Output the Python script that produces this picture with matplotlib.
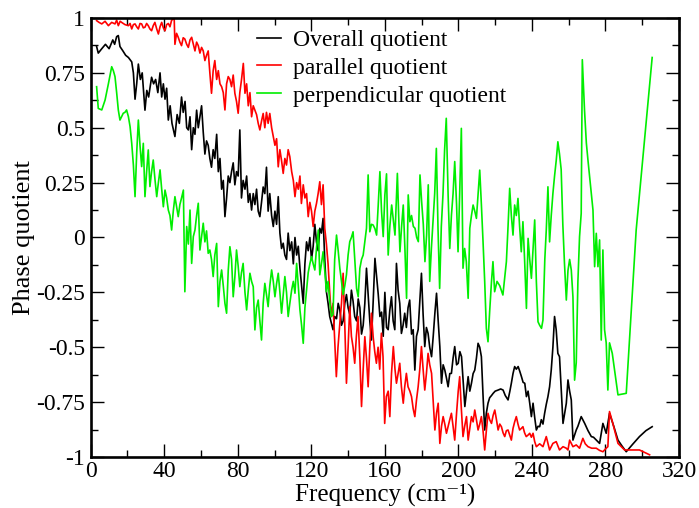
import matplotlib
matplotlib.use("Agg")
import matplotlib.pyplot as plt
from matplotlib.ticker import MultipleLocator, FixedLocator

plt.rcParams['font.family'] = ['Liberation Serif', 'DejaVu Serif']
plt.rcParams['axes.unicode_minus'] = False

# ---------------- data ----------------
overall_x = [3.2, 4.1, 6, 8, 10, 12, 13, 14.1, 15, 15.9, 17.5, 19, 20.5, 22.3, 23.2, 24.1, 25, 25.9, 27, 28,
             29.5, 30.5, 31.5, 33.1, 34.2, 35.3, 36.5, 37.7, 38.6, 39.5, 40.4, 41.3, 42.2, 43.2, 44.2, 45.8, 47, 48.2, 49.4, 50.3,
             51.3, 52.2, 53.1, 54, 54.9, 55.8, 56.7, 57.6, 58.5, 59.4, 60.3, 61.2, 62.1, 63, 63.9, 64.8, 65.7, 66.6, 67.5, 68.5,
             69.4, 70.3, 71.2, 72.1, 73, 73.9, 74.8, 75.7, 76.6, 77.5, 78.4, 79.3, 80.2, 81.1, 82, 82.9, 83.9, 84.8, 85.7, 86.6,
             87.5, 88.4, 89.3, 90.2, 91.1, 92, 92.9, 93.8, 94.7, 95.6, 96.5, 97.4, 98.4, 99.3, 100.2, 101.1, 102, 102.9, 103.8, 104.7,
             105.6, 106.5, 107.4, 108.3, 109.3, 110.2, 111.1, 112, 112.9, 113.8, 114.7, 115.6, 116.5, 117.4, 118.3, 119.2, 120.1, 121, 121.9, 122.8,
             123.7, 124.6, 125.5, 126.4, 127.3, 128.2, 129.1, 130, 130.9, 131.8, 132.7, 133.7, 134.6, 135.5, 136.4, 137.3, 138.2, 139.1, 140, 140.9,
             141.8, 142.7, 143.6, 144.6, 145.5, 146.4, 147.3, 148.2, 149.1, 150, 150.9, 151.8, 152.7, 153.6, 154.6, 155.5, 156.4, 157.3, 158.2, 159.1,
             160, 160.9, 161.8, 162.7, 163.6, 164.5, 165.4, 166.3, 167.2, 168.1, 169, 169.9, 170.8, 171.7, 172.6, 173.5, 174.5, 175.4, 176.3, 177.2,
             178.1, 179.1, 179.9, 180.8, 181.7, 182.6, 183.5, 184.4, 185.4, 186.3, 187.2, 188.1, 189, 189.9, 190.8, 191.7, 192.6, 193.5, 194.4, 195.3,
             196.2, 197.1, 198, 199, 199.9, 200.8, 201.7, 202.6, 203.5, 204.4, 205.3, 206.2, 207.1, 208, 208.9, 209.8, 210.7, 211.6, 212.5, 213.4,
             214.3, 215.2, 216.1, 217, 218, 218.9, 220, 221.6, 223, 224.3, 225.5, 227, 228, 228.8, 229.7, 230.6, 231.5, 232.5, 233.4, 234.3,
             235.2, 236.1, 237, 237.9, 238.8, 239.7, 240.6, 241.5, 242.4, 243.3, 244.2, 245.1, 246, 246.9, 247.8, 248.7, 249.6, 250.5, 251.4, 252.3,
             253.2, 254.1, 255, 256, 256.9, 257.8, 258.7, 259.6, 260.5, 261.4, 262.3, 263.2, 264.1, 265, 266.8, 268.7, 270.5, 272.3, 273.5, 275,
             276.8, 278.6, 280.4, 282.2, 284.5, 286.8, 289, 291.3, 295, 298.5, 302, 305.4]
overall_y = [0.87, 0.84, 0.86, 0.88, 0.86, 0.9, 0.88, 0.915, 0.92, 0.87, 0.85, 0.83, 0.82, 0.8, 0.75, 0.63, 0.7, 0.79, 0.72, 0.75,
             0.58, 0.67, 0.64, 0.73, 0.7, 0.72, 0.66, 0.75, 0.64, 0.7, 0.63, 0.68, 0.535, 0.6, 0.52, 0.46, 0.56, 0.52, 0.64, 0.57,
             0.62, 0.5, 0.49, 0.55, 0.4, 0.5, 0.47, 0.58, 0.5, 0.55, 0.6, 0.48, 0.38, 0.44, 0.42, 0.36, 0.32, 0.4, 0.36, 0.47,
             0.3, 0.36, 0.22, 0.26, 0.095, 0.18, 0.28, 0.25, 0.3, 0.34, 0.24, 0.3, 0.28, 0.49, 0.18, 0.26, 0.22, 0.28, 0.16, 0.2,
             0.125, 0.2, 0.15, 0.22, 0.12, 0.095, 0.16, 0.23, 0.2, 0.32, 0.12, 0.2, 0.1, 0.05, 0.12, 0.06, 0.186, 0.02, -0.05, -0.026,
             -0.08, -0.1, 0.02, -0.06, -0.02, -0.12, 0.0, -0.08, -0.04, -0.14, -0.22, -0.3, -0.12, -0.02, -0.06, 0.0, -0.1, -0.04, 0.06, -0.02,
             -0.06, 0.042, 0.02, 0.087, -0.1, -0.247, -0.3, -0.36, -0.39, -0.42, -0.36, -0.37, -0.3, -0.33, -0.4, -0.38, -0.3, -0.26, -0.32, -0.35,
             -0.24, -0.29, -0.36, -0.38, -0.28, -0.32, -0.44, -0.4, -0.3, -0.14, -0.26, -0.38, -0.467, -0.3, -0.095, -0.18, -0.26, -0.36, -0.34, -0.45,
             -0.25, -0.41, -0.42, -0.33, -0.27, -0.38, -0.42, -0.118, -0.24, -0.3, -0.437, -0.4, -0.345, -0.41, -0.32, -0.285, -0.44, -0.42, -0.604, -0.45,
             -0.42, -0.28, -0.163, -0.35, -0.497, -0.41, -0.437, -0.5, -0.543, -0.45, -0.345, -0.254, -0.38, -0.497, -0.664, -0.58, -0.604, -0.64, -0.68, -0.62,
             -0.619, -0.55, -0.497, -0.58, -0.573, -0.52, -0.543, -0.66, -0.77, -0.7, -0.634, -0.7, -0.664, -0.62, -0.604, -0.55, -0.482, -0.5, -0.543, -0.72,
             -0.877, -0.8, -0.755, -0.73, -0.72, -0.71, -0.7, -0.695, -0.69, -0.695, -0.72, -0.74, -0.7, -0.664, -0.62, -0.588, -0.6, -0.588, -0.61, -0.634,
             -0.66, -0.664, -0.725, -0.7, -0.755, -0.816, -0.755, -0.82, -0.877, -0.86, -0.862, -0.83, -0.85, -0.801, -0.76, -0.725, -0.68, -0.604, -0.5, -0.36,
             -0.421, -0.528, -0.543, -0.7, -0.847, -0.8, -0.755, -0.649, -0.7, -0.74, -0.923, -0.9, -0.877, -0.86, -0.816, -0.847, -0.88, -0.907, -0.91, -0.923,
             -0.938, -0.847, -0.892, -0.801, -0.86, -0.923, -0.95, -0.976, -0.94, -0.907, -0.88, -0.862]

parallel_x = [3.2, 4.5, 6, 7.8, 9.6, 11.4, 13.2, 14.1, 15, 16, 16.8, 18.6, 20.5, 21.4, 22.3, 23.2, 24.1, 25, 25.9, 26.8,
              27.7, 28.6, 29.5, 30.4, 31.3, 32.2, 33.1, 34, 34.9, 35.9, 36.8, 37.7, 38.6, 39.5, 40.4, 41.3, 42.2, 43.1, 44, 45.4,
              45.8, 46.7, 47.6, 48.5, 49.4, 50.3, 51.2, 52.2, 53.1, 54, 54.9, 55.8, 56.7, 57.6, 58.5, 59.4, 60.3, 61.2, 62.1, 63,
              63.9, 64.8, 65.7, 66.6, 67.5, 68.5, 69.4, 70.3, 71.2, 72.1, 73, 73.9, 74.8, 75.7, 76.6, 77.5, 78.4, 79.3, 80.2, 81.1,
              82, 83, 83.9, 84.8, 85.7, 86.6, 87.5, 88.4, 89.3, 90.2, 91.1, 92, 92.9, 93.8, 94.7, 95.6, 96.5, 97.4, 98.4, 99.3,
              100.2, 101.1, 102, 102.9, 103.8, 104.7, 105.6, 106.5, 107.4, 108.3, 109.3, 110.2, 111.1, 112, 112.9, 113.8, 114.6, 115.6, 116.5, 117.4,
              118.3, 119.2, 120.1, 121, 121.9, 122.8, 123.7, 124.6, 125.5, 126.4, 127.3, 128.2, 129.1, 130, 130.9, 131.8, 132.7, 133.6, 134.5, 135.5,
              136.4, 137.3, 138.2, 139.1, 140, 140.9, 141.8, 142.7, 143.6, 144.5, 145.4, 146.4, 147.3, 148.2, 149.1, 150, 150.9, 151.8, 152.7, 153.6,
              154.5, 155.4, 156.3, 157.2, 158.1, 159, 159.9, 160.8, 161.8, 162.7, 163.6, 164.6, 165.5, 166.3, 167.2, 168.1, 169, 170, 170.8, 171.7,
              172.6, 173.6, 174.5, 175.4, 176.3, 177.2, 178.1, 179, 179.9, 180.8, 181.7, 182.6, 183.5, 184.4, 185.4, 186.3, 187.2, 188.1, 189, 189.9,
              190.8, 191.7, 192.6, 193.5, 194.4, 195.3, 196.2, 197.1, 198, 199, 199.9, 200.7, 201.6, 202.5, 203.4, 204.4, 205.3, 206.2, 207.1, 208,
              208.9, 209.8, 210.7, 211.6, 212.5, 213.4, 214.3, 215.2, 216.1, 217, 218, 218.9, 219.8, 220.7, 221.6, 222.5, 223.4, 224.3, 225.2, 226.1,
              227, 227.9, 228.8, 229.7, 230.6, 231.5, 232.4, 233.3, 234.2, 235.1, 236, 236.9, 237.9, 238.8, 239.7, 240.6, 241.5, 242.4, 244.2, 246,
              247.8, 249.6, 251.4, 253.2, 255, 256.9, 258.7, 259.6, 260.5, 262.3, 264.1, 265.9, 267.7, 269, 270.5, 272.5, 275, 276.8, 278.6, 280.4,
              281.3, 282.2, 284, 286.8, 290.4, 293.1, 298.5, 304]
parallel_y = [0.988, 0.98, 0.973, 0.985, 0.965, 0.98, 0.973, 0.99, 0.965, 0.985, 0.98, 0.97, 0.965, 0.975, 0.95, 0.97, 0.973, 0.96, 0.95, 0.975,
              0.973, 0.955, 0.958, 0.975, 0.965, 0.95, 0.942, 0.965, 0.98, 0.95, 0.927, 0.96, 0.98, 0.955, 0.942, 0.97, 0.975, 0.96, 0.99, 0.998,
              0.88, 0.93, 0.912, 0.89, 0.874, 0.91, 0.904, 0.88, 0.866, 0.9, 0.912, 0.88, 0.85, 0.89, 0.874, 0.84, 0.866, 0.85, 0.806, 0.83,
              0.85, 0.75, 0.657, 0.76, 0.806, 0.72, 0.76, 0.7, 0.687, 0.66, 0.581, 0.7, 0.733, 0.72, 0.687, 0.74, 0.657, 0.62, 0.566, 0.66,
              0.718, 0.793, 0.657, 0.7, 0.6, 0.66, 0.55, 0.6, 0.58, 0.56, 0.52, 0.49, 0.53, 0.565, 0.5, 0.57, 0.52, 0.565, 0.5, 0.459,
              0.42, 0.45, 0.322, 0.4, 0.35, 0.292, 0.36, 0.33, 0.4, 0.368, 0.3, 0.26, 0.186, 0.25, 0.22, 0.28, 0.155, 0.24, 0.18, 0.2,
              0.095, 0.16, 0.12, 0.05, 0.12, 0.155, 0.2, 0.254, 0.15, 0.24, 0.042, -0.03, -0.12, -0.25, -0.36, -0.3, -0.467, -0.634, -0.5, -0.391,
              -0.3, -0.163, -0.4, -0.664, -0.5, -0.315, -0.45, -0.5, -0.573, -0.45, -0.36, -0.55, -0.77, -0.6, -0.452, -0.55, -0.68, -0.5, -0.345, -0.45,
              -0.52, -0.573, -0.5, -0.6, -0.436, -0.543, -0.847, -0.725, -0.7, -0.816, -0.62, -0.497, -0.6, -0.664, -0.62, -0.573, -0.68, -0.755, -0.68, -0.619,
              -0.68, -0.7, -0.725, -0.78, -0.816, -0.74, -0.68, -0.6, -0.497, -0.6, -0.695, -0.62, -0.528, -0.58, -0.619, -0.75, -0.877, -0.8, -0.755, -0.938,
              -0.86, -0.816, -0.85, -0.892, -0.86, -0.83, -0.801, -0.86, -0.923, -0.8, -0.7, -0.634, -0.78, -0.907, -0.86, -0.816, -0.923, -0.87, -0.816, -0.84,
              -0.786, -0.83, -0.877, -0.85, -0.816, -0.88, -0.968, -0.88, -0.801, -0.83, -0.847, -0.81, -0.786, -0.83, -0.877, -0.85, -0.862, -0.89, -0.907, -0.88,
              -0.877, -0.9, -0.923, -0.87, -0.84, -0.816, -0.85, -0.877, -0.87, -0.862, -0.89, -0.907, -0.9, -0.892, -0.91, -0.892, -0.93, -0.953, -0.94, -0.953,
              -0.907, -0.968, -0.938, -0.93, -0.968, -0.953, -0.96, -0.968, -0.923, -0.953, -0.945, -0.96, -0.915, -0.94, -0.953, -0.96, -0.96, -0.97, -0.976, -0.96,
              -0.953, -0.793, -0.847, -0.938, -0.968, -0.968, -0.968, -0.99]

perp_x = [3.2, 4.1, 6, 7.8, 9.6, 11.4, 12.3, 13.2, 14.1, 15, 15.9, 16.8, 17.7, 18.6, 19.5, 20.5, 21.4, 22.3, 23.2, 24.1,
          25, 25.9, 26.8, 27.7, 28.6, 29.5, 30.4, 31.3, 32.2, 33.1, 34, 35, 35.9, 36.8, 37.7, 38.6, 39.5, 40.4, 41.3, 42.2,
          43.1, 44, 44.9, 45.8, 46.7, 47.6, 48.5, 49.4, 50.4, 51.2, 52.2, 53.1, 54, 54.9, 55.8, 56.7, 57.6, 58.5, 59.4, 60.3,
          61.2, 62.1, 63, 63.9, 64.8, 65.7, 66.6, 67.5, 68.5, 69.4, 70.3, 71.2, 72.1, 73, 73.9, 74.8, 75.7, 76.6, 77.5, 78.4,
          79.3, 80.2, 81.1, 82, 82.9, 83.9, 84.8, 85.7, 86.6, 87.5, 88.4, 89.3, 90.2, 91.1, 92, 92.9, 93.8, 94.7, 95.6, 96.5,
          97.4, 98.4, 99.3, 100.2, 101.1, 102, 102.9, 103.8, 104.7, 105.6, 106.5, 107.4, 108.3, 109.3, 110.2, 111.1, 112, 112.9, 113.8, 114.7,
          115.6, 116.5, 117.4, 118.3, 119.2, 120.1, 121, 121.9, 122.8, 123.8, 124.6, 125.5, 126.4, 127.3, 128.2, 129.1, 130, 130.9, 131.8, 132.7,
          133.7, 134.6, 135.5, 136.4, 137.3, 138.2, 139.1, 140, 140.9, 141.8, 142.7, 143.6, 144.6, 145.5, 146.4, 147.3, 148.2, 149.1, 150, 150.9,
          151.8, 152.7, 153.6, 154.6, 155.5, 156.4, 157.3, 158.2, 159.1, 160, 160.9, 161.8, 162.7, 163.7, 164.6, 165.5, 166.8, 167.5, 168.2, 169.1,
          170, 170.9, 171.8, 172.7, 173.6, 174.5, 175.5, 176.4, 177.3, 178.2, 179.1, 180, 180.9, 181.8, 182.7, 183.6, 184.4, 185.3, 186.2, 187.1,
          188, 188.9, 189.8, 190.7, 191.6, 192.5, 193.4, 194.4, 195.3, 196.2, 197.1, 198, 199, 199.8, 200.7, 201.6, 202.5, 203.4, 204.3, 205.3,
          206.2, 207.1, 208, 208.9, 209.8, 210.7, 211.6, 212.5, 213.4, 214.3, 215.2, 216.1, 217, 218, 218.8, 219.7, 221, 222.5, 224.2, 225.2,
          226.1, 227, 227.9, 228.8, 229.7, 230.6, 231.5, 232.4, 233.3, 234.2, 235.1, 236, 237, 237.9, 238.8, 239.7, 240.6, 241.5, 242.4, 243.3,
          244.2, 245.2, 246, 247, 247.8, 248.7, 249.6, 250.5, 251.4, 252.3, 253.2, 254.1, 255, 255.9, 256.8, 257.7, 258.7, 259.6, 260.5, 261.4,
          262.3, 263.2, 264.1, 265, 265.9, 266.8, 267.4, 268.1, 268.6, 269.6, 270.5, 271.4, 272.3, 273.2, 274.1, 275, 275.9, 276.8, 277.7, 278.6,
          279.5, 280.4, 281.3, 282.2, 283.7, 286.8, 291.3, 296.7, 305.4]
perp_y = [0.687, 0.588, 0.581, 0.626, 0.7, 0.778, 0.76, 0.733, 0.66, 0.581, 0.535, 0.55, 0.566, 0.57, 0.581, 0.55, 0.505, 0.429, 0.33, 0.186,
          0.384, 0.535, 0.42, 0.323, 0.429, 0.186, 0.3, 0.399, 0.232, 0.3, 0.353, 0.26, 0.186, 0.25, 0.308, 0.22, 0.14, 0.216, 0.18, 0.125,
          0.1, 0.034, 0.12, 0.186, 0.14, 0.095, 0.15, 0.18, 0.216, -0.247, 0.05, -0.03, 0.125, -0.118, 0.004, 0.034, 0.1, 0.156, -0.057, 0.004,
          0.065, -0.02, 0.03, -0.072, -0.057, -0.1, -0.178, -0.08, -0.027, -0.315, -0.2, -0.148, -0.22, -0.3, -0.345, -0.15, -0.042, -0.1, -0.27, -0.18,
          -0.057, -0.13, -0.224, -0.16, -0.118, -0.25, -0.33, -0.24, -0.163, -0.2, -0.224, -0.421, -0.32, -0.285, -0.38, -0.467, -0.3, -0.209, -0.26, -0.315,
          -0.22, -0.148, -0.2, -0.27, -0.21, -0.163, -0.25, -0.345, -0.26, -0.178, -0.25, -0.36, -0.3, -0.239, -0.2, -0.254, -0.118, -0.22, -0.33, -0.4,
          -0.482, -0.32, -0.239, -0.16, -0.12, -0.087, -0.12, -0.148, -0.05, 0.034, -0.17, -0.12, -0.065, -0.15, -0.247, -0.2, -0.29, -0.36, -0.35, -0.1,
          0.011, -0.06, -0.14, -0.2, -0.26, -0.22, -0.17, -0.08, -0.019, 0.0, 0.026, -0.1, -0.232, -0.27, -0.14, -0.1, -0.08, -0.02, 0.042, 0.285,
          0.026, 0.06, 0.057, 0.04, 0.011, 0.15, 0.3, 0.118, 0.004, 0.194, 0.29, -0.08, 0.05, 0.148, 0.08, 0.011, 0.292, 0.1, -0.065, 0.05,
          0.148, -0.05, -0.277, 0.194, 0.072, 0.1, 0.05, 0.042, 0.0, -0.019, 0.285, 0.163, 0.06, -0.11, 0.011, 0.24, -0.2, -0.05, 0.072, 0.2,
          0.406, 0.042, -0.232, 0.05, 0.194, 0.4, 0.543, 0.194, -0.05, 0.1, 0.2, 0.346, 0.15, -0.065, 0.2, 0.497, -0.14, -0.05, -0.11, -0.277,
          0.042, 0.1, 0.148, 0.12, 0.087, 0.2, 0.307, 0.15, -0.019, -0.2, -0.414, -0.475, -0.338, -0.2, -0.11, -0.247, -0.2, -0.22, -0.262, -0.18,
          -0.11, 0.05, 0.224, 0.1, 0.011, 0.148, 0.1, 0.178, 0.05, -0.065, 0.072, -0.1, -0.323, -0.004, -0.1, -0.186, -0.05, 0.08, -0.2, -0.384,
          -0.4, -0.414, -0.376, -0.1, 0.034, 0.231, -0.02, 0.1, 0.2, 0.28, 0.35, 0.436, 0.38, 0.31, 0.06, -0.118, -0.285, -0.15, -0.1, -0.148,
          -0.27, -0.65, -0.57, -0.2, 0.004, 0.11, 0.81, 0.672, 0.58, 0.43, 0.35, 0.277, 0.2, 0.125, -0.133, 0.019, -0.133, -0.011, -0.467, -0.057,
          -0.42, -0.48, -0.695, -0.48, -0.528, -0.717, -0.71, 0.034, 0.82]

labels = ["Overall quotient", "parallel quotient", "perpendicular quotient"]
colors = ["#000000", "#ff0000", "#00ee00"]
x_ticks = [0, 40, 80, 120, 160, 200, 240, 280, 320]
y_ticks = [-1, -0.75, -0.5, -0.25, 0, 0.25, 0.5, 0.75, 1]
y_tick_labels = ["-1", "-0.75", "-0.5", "-0.25", "0", "0.25", "0.5", "0.75", "1"]
x_label = "Frequency (cm\u207b\u00b9)"
y_label = "Phase quotient"

# ---------------- figure ----------------
fig = plt.figure(figsize=(6.99, 5.08), dpi=100)
ax = fig.add_axes([0.1298, 0.1004, 0.8416, 0.8642])

ax.plot(overall_x, overall_y, color=colors[0], lw=1.2, label=labels[0])
ax.plot(parallel_x, parallel_y, color=colors[1], lw=1.2, label=labels[1])
ax.plot(perp_x, perp_y, color=colors[2], lw=1.2, label=labels[2])

ax.set_xlim(0, 320)
ax.set_ylim(-1, 1)
ax.xaxis.set_major_locator(FixedLocator(x_ticks))
ax.xaxis.set_minor_locator(MultipleLocator(20))
ax.yaxis.set_major_locator(FixedLocator(y_ticks))
ax.set_yticklabels(y_tick_labels)
ax.yaxis.set_minor_locator(MultipleLocator(0.125))

ax.tick_params(which='both', direction='in', top=True, right=True, width=1.0)
ax.tick_params(which='major', length=9.5, labelsize=17)
ax.tick_params(axis='y', which='major', pad=4)
ax.tick_params(axis='x', which='major', pad=3)
ax.tick_params(which='minor', length=5)
for s in ax.spines.values():
    s.set_linewidth(1.9)

ax.set_xlabel(x_label, fontsize=18, labelpad=1)
ax.set_ylabel(y_label, fontsize=19, labelpad=1)

leg = ax.legend(loc='upper left', bbox_to_anchor=(0.275, 0.985), frameon=False, fontsize=17,
                handlelength=1.0, handletextpad=0.5, labelspacing=0.27, borderpad=0.2, borderaxespad=0)

fig.savefig("out.png", dpi=100)
